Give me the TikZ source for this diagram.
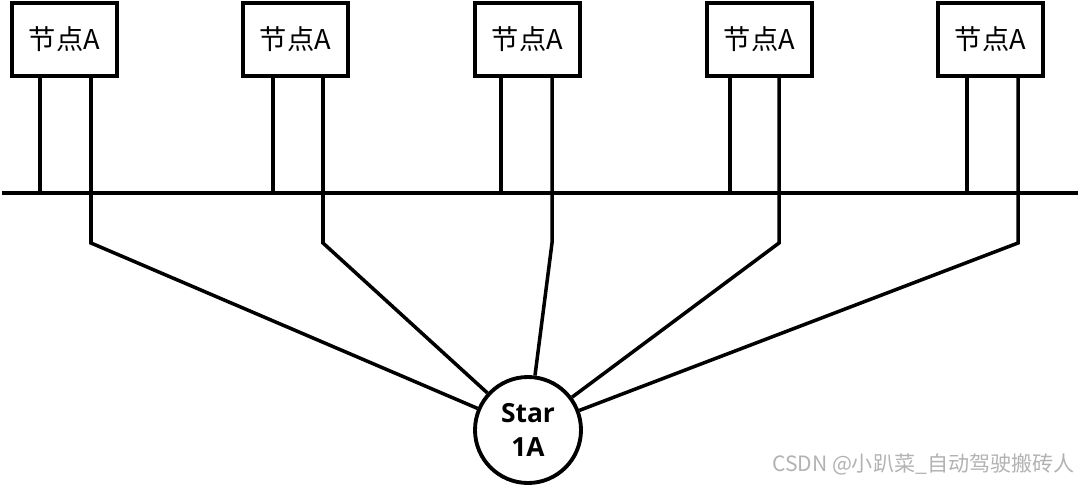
\documentclass[tikz,border=0pt]{standalone}
\usepackage{fontspec}
\newfontfamily\cjk{Noto Sans CJK SC}
\newfontfamily\starfont{Open Sans}
\usepackage{tikz}
\tikzset{
    nodebox/.style={draw, line width=2.2pt, minimum width=2.1cm, minimum height=1.46cm, inner sep=0pt, font=\cjk\fontsize{15.5}{18}\selectfont},
    wire/.style={line width=2pt},
    starnode/.style={draw, circle, line width=2.2pt, minimum size=2.12cm, inner sep=0pt, align=center, font=\starfont\bfseries\fontsize{15}{19}\selectfont},
}

\begin{document}
\begin{tikzpicture}
\useasboundingbox (0,0) rectangle (21.6,9.72);
\node[nodebox] (n1) at (1.29,8.93) {节点A};
\node[nodebox] (n2) at (5.91,8.93) {节点A};
\node[nodebox] (n3) at (10.55,8.93) {节点A};
\node[nodebox] (n4) at (15.19,8.93) {节点A};
\node[nodebox] (n5) at (19.81,8.93) {节点A};
\node[starnode] (star) at (10.56,1.12) {Star\\1A};
\coordinate (busL) at (0.04,5.86);
\coordinate (busR) at (21.56,5.86);
\coordinate (l1) at (0.80,5.86);
\coordinate (l2) at (5.46,5.86);
\coordinate (l3) at (10.02,5.86);
\coordinate (l4) at (14.60,5.86);
\coordinate (l5) at (19.34,5.86);
\coordinate (b1) at (1.82,4.86);
\coordinate (b2) at (6.46,4.86);
\coordinate (b3) at (11.04,4.86);
\coordinate (b4) at (15.58,4.86);
\coordinate (b5) at (20.36,4.86);
\draw[wire] (busL) -- (busR);
\draw[wire] (n1.south -| l1) -- (l1);
\draw[wire] (n2.south -| l2) -- (l2);
\draw[wire] (n3.south -| l3) -- (l3);
\draw[wire] (n4.south -| l4) -- (l4);
\draw[wire] (n5.south -| l5) -- (l5);
\draw[wire] (n1.south -| b1) -- (b1) -- (star);
\draw[wire] (n2.south -| b2) -- (b2) -- (star);
\draw[wire] (n3.south -| b3) -- (b3) -- (star);
\draw[wire] (n4.south -| b4) -- (b4) -- (star);
\draw[wire] (n5.south -| b5) -- (b5) -- (star);
\node[anchor=east, text=black!30, font=\cjk\fontsize{12}{14}\selectfont, inner sep=0pt] (mark) at (21.5,0.44) {CSDN @小趴菜\_自动驾驶搬砖人};
\end{tikzpicture}
\end{document}
